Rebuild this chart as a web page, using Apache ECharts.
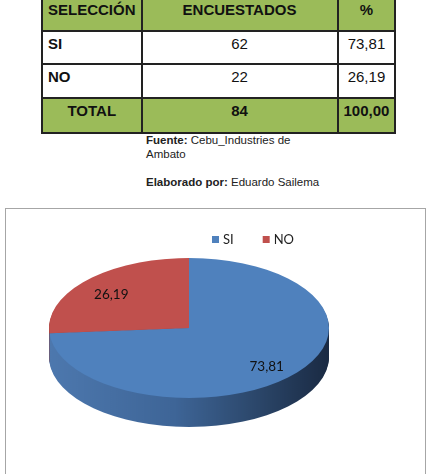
<!DOCTYPE html>
<html>
<head>
<meta charset="utf-8">
<script src="https://cdn.jsdelivr.net/npm/echarts@6.0.0/dist/echarts.min.js"></script>
<style>
  html, body { margin: 0; padding: 0; background: #fff; }
  .page { position: relative; width: 430px; height: 474px; overflow: hidden; }
  .tabla {
    position: absolute; left: 41px; top: -4px;
    border-collapse: collapse; table-layout: fixed;
    font-family: "Liberation Sans", Arial, sans-serif; font-size: 15px; color: #111;
  }
  .tabla td { border: 2px solid #222; padding: 3px 5px 0; vertical-align: top; box-sizing: border-box; }
  .tabla .verde td { background: #9bbb59; font-weight: bold; }
  .tabla .c { text-align: center; }
  .nota {
    position: absolute; left: 146px; top: 133px;
    font-family: "Liberation Sans", Arial, sans-serif; font-size: 11.5px; line-height: 14px; color: #222;
  }
  .marco { position: absolute; left: 5px; top: 208px; width: 419px; height: 300px; border: 1px solid #a6a6a6; }
  #pie3d { position: absolute; left: 0; top: 0; width: 430px; height: 948px; transform: scaleY(0.5); transform-origin: 0 0; }
  #capa { position: absolute; left: 0; top: 0; width: 430px; height: 474px; }
</style>
</head>
<body>
<div class="page">
  <table class="tabla" id="tabla">
    <colgroup><col style="width:99px"><col style="width:196px"><col style="width:57px"></colgroup>
    <tbody></tbody>
  </table>
  <div class="nota">
    <b>Fuente:</b> Cebu_Industries de<br>Ambato<br><br><b>Elaborado por:</b> Eduardo Sailema
  </div>
  <div class="marco"></div>
  <div id="pie3d"></div>
  <div id="capa"></div>
</div>
<script>
// datos
var categorias = ['SI', 'NO'];
var encuestados = [62, 22];
var porcentajes = [73.81, 26.19];
var total = 84;
var totalPct = 100.00;
var colores = ['#4f81bd', '#c0504d'];

function coma(v) { return v.toFixed(2).replace('.', ','); }

// tabla
var filas = [
  { cls: 'verde', cells: [['SELECCIÓN', ''], ['ENCUESTADOS', 'c'], ['%', 'c']], h: 34 }
];
categorias.forEach(function (c, i) {
  filas.push({ cls: '', cells: [[c, ''], [String(encuestados[i]), 'c'], [coma(porcentajes[i]), 'c']], h: i == 0 ? 33 : 34 });
});
filas.push({ cls: 'verde', cells: [['TOTAL', 'c'], [String(total), 'c'], [coma(totalPct), 'c']], h: 35 });
var tbody = document.querySelector('#tabla tbody');
filas.forEach(function (f) {
  var tr = document.createElement('tr');
  if (f.cls) tr.className = f.cls;
  tr.style.height = f.h + 'px';
  f.cells.forEach(function (c) {
    var td = document.createElement('td');
    td.textContent = c[0];
    if (c[1]) td.className = c[1];
    if (c[0] == 'SI' || c[0] == 'NO') td.style.fontWeight = 'bold';
    tr.appendChild(td);
  });
  tbody.appendChild(tr);
});

// pastel 3D (se aplasta con CSS scaleY 0.5)
var cx = 189, cy = 656, radio = 140, fondo = 58;
var datos = categorias.map(function (c, i) { return { name: c, value: porcentajes[i] }; });
var ladoAzul = {
  type: 'linear', global: true, x: cx - radio, y: 0, x2: cx + radio, y2: 0,
  colorStops: [
    { offset: 0, color: '#4d78ae' },
    { offset: 0.45, color: '#3e6597' },
    { offset: 0.75, color: '#2b4669' },
    { offset: 1, color: '#1a2a43' }
  ]
};
var series = [];
for (var off = fondo, k = 0; off > 0; off -= 2, k++) {
  series.push({
    type: 'pie', z: 1 + k, silent: true, startAngle: 90, clockwise: true,
    center: [cx, cy + off], radius: radio,
    label: { show: false }, labelLine: { show: false },
    itemStyle: { borderWidth: 0 },
    data: datos.map(function (d, i) {
      return { name: d.name, value: d.value, itemStyle: { color: i == 0 ? ladoAzul : '#8e3a37' } };
    })
  });
}
series.push({
  type: 'pie', z: 100, silent: true, startAngle: 90, clockwise: true,
  center: [cx, cy], radius: radio,
  label: { show: false }, labelLine: { show: false },
  itemStyle: { borderWidth: 0 },
  data: datos.map(function (d, i) {
    return { name: d.name, value: d.value, itemStyle: { color: colores[i] } };
  })
});
var pie = echarts.init(document.getElementById('pie3d'));
pie.setOption({ animation: false, backgroundColor: 'transparent', series: series });

// leyenda y etiquetas
var cyTop = cy / 2 + 3;
var capa = echarts.init(document.getElementById('capa'));
capa.setOption({
  animation: false,
  backgroundColor: 'transparent',
  legend: {
    left: 212, top: 233, padding: 0,
    icon: 'rect', itemWidth: 7, itemHeight: 7, itemGap: 29,
    textStyle: { fontFamily: 'Lato', fontSize: 13, color: '#222', padding: [0, 0, 0, -1] },
    data: categorias.map(function (c, i) { return { name: c, itemStyle: { color: colores[i], opacity: 1 } }; })
  },
  series: [{
    type: 'pie', silent: true, startAngle: 90, clockwise: true,
    center: [cx, cyTop], radius: 206,
    itemStyle: { color: 'transparent', borderWidth: 0 },
    label: {
      show: true, position: 'inside',
      fontFamily: 'Lato', fontSize: 13.5, color: '#111',
      formatter: function (p) { return coma(p.value); }
    },
    labelLine: { show: false },
    labelLayout: function (p) {
      var lx = p.labelRect.x + p.labelRect.width / 2;
      var ly = p.labelRect.y + p.labelRect.height / 2;
      return { x: lx, y: cyTop + (ly - cyTop) * 0.5, align: 'center', verticalAlign: 'middle' };
    },
    data: datos
  }]
});
</script>
</body>
</html>
